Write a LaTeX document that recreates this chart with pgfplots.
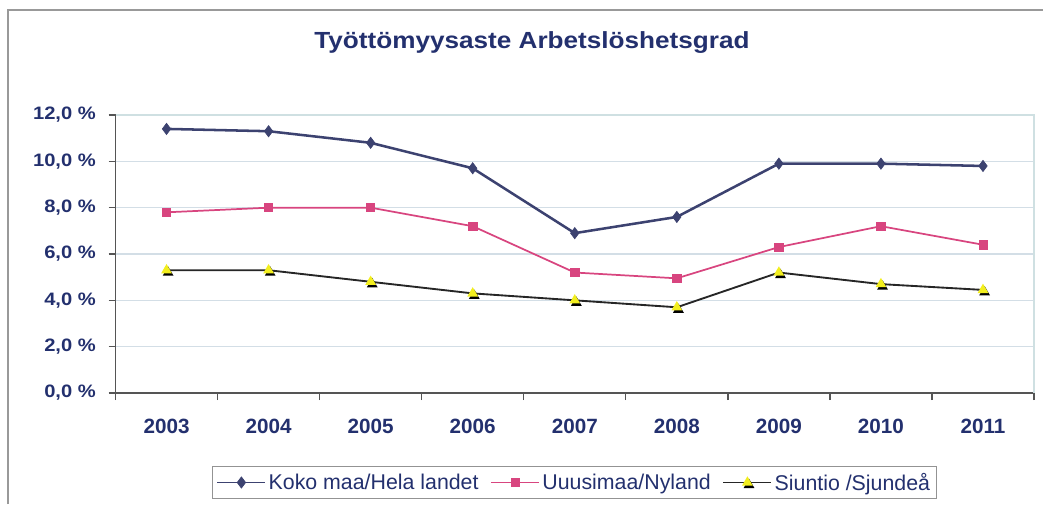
\documentclass[border=0pt]{standalone}
\usepackage{fontspec}
\setmainfont{Liberation Sans}
\newfontfamily\titlefont[FakeStretch=1.12]{Liberation Sans}
\newfontfamily\yfont[FakeStretch=1.12]{Liberation Sans}
\usepackage{pgfplots}
\pgfplotsset{compat=1.18}
\definecolor{navy}{HTML}{23306E}
\definecolor{kokoc}{HTML}{3C4270}
\definecolor{uusic}{HTML}{D8457F}
\definecolor{sjyellow}{HTML}{F2EE1E}
\definecolor{gridc}{HTML}{D3DEE6}
\definecolor{axisc}{HTML}{555555}
\definecolor{framec}{HTML}{CFE0E2}
\pgfdeclareplotmark{shadowtri}{%
  \begin{pgfscope}%
  \pgftransformshift{\pgfpoint{1.2pt}{-1.8pt}}%
  \pgfsetfillcolor{black}%
  \pgfpathmoveto{\pgfqpointpolar{90}{1.3\pgfplotmarksize}}%
  \pgfpathlineto{\pgfqpointpolar{-30}{1.3\pgfplotmarksize}}%
  \pgfpathlineto{\pgfqpointpolar{210}{1.3\pgfplotmarksize}}%
  \pgfpathclose\pgfusepathqfill
  \end{pgfscope}%
  \pgfsetfillcolor{sjyellow}%
  \pgfpathmoveto{\pgfqpointpolar{90}{1.3\pgfplotmarksize}}%
  \pgfpathlineto{\pgfqpointpolar{-30}{1.3\pgfplotmarksize}}%
  \pgfpathlineto{\pgfqpointpolar{210}{1.3\pgfplotmarksize}}%
  \pgfpathclose\pgfusepathqfill
}
\pgfplotstableread{
year koko uusi sju
2003 11.4 7.8 5.3
2004 11.3 8.0 5.3
2005 10.8 8.0 4.8
2006 9.7 7.2 4.3
2007 6.9 5.2 4.0
2008 7.6 4.95 3.7
2009 9.9 6.3 5.2
2010 9.9 7.2 4.7
2011 9.8 6.4 4.45
}\datatable
\begin{document}
\begin{tikzpicture}[x=0.75pt,y=0.75pt]
\path[use as bounding box] (0,0) rectangle (1043,504);
\draw[gray!80, line width=1.5pt] (8,0) -- (8,494) -- (1043,494);
\node[font=\titlefont\bfseries\fontsize{17.5pt}{19pt}\selectfont, text=navy] at (532,461) {Työttömyysaste Arbetslöshetsgrad};
\coordinate (AX) at (115.5,111);
\begin{axis}[
  at={(AX)}, anchor=south west, scale only axis,
  width=688.9pt, height=208.5pt,
  xmin=2002.5, xmax=2011.5, ymin=0, ymax=12,
  axis x line*=bottom, axis y line*=left,
  axis line style={draw=axisc, line width=1.1pt},
  tick align=outside,
  xtick={2003,2004,2005,2006,2007,2008,2009,2010,2011},
  xticklabels={2003,2004,2005,2006,2007,2008,2009,2010,2011},
  minor xtick={2002.5,2003.5,2004.5,2005.5,2006.5,2007.5,2008.5,2009.5,2010.5,2011.5},
  major x tick style={draw=none},
  minor x tick style={draw=axisc, line width=1pt},
  minor tick length=5.25pt,
  ytick={0,2,4,6,8,10,12},
  yticklabels={0{,}0 \%,2{,}0 \%,4{,}0 \%,6{,}0 \%,8{,}0 \%,10{,}0 \%,12{,}0 \%},
  y tick style={draw=axisc, line width=1pt},
  major tick length=5.25pt,
  ymajorgrids, grid style={draw=gridc, line width=1pt},
  x tick label style={font=\bfseries\fontsize{15.5pt}{17pt}\selectfont, text=navy, yshift=-10.5pt},
  y tick label style={font=\yfont\bfseries\fontsize{13.5pt}{15pt}\selectfont, text=navy, xshift=-6pt},
  legend style={at={(0.5,-0.322)}, anchor=center, draw=gray!85, line width=1pt,
    font=\fontsize{16pt}{18pt}\selectfont, text=navy, inner sep=3pt,
    /tikz/every even column/.append style={column sep=7pt}},
  legend columns=3,
  legend image code/.code={\draw[mark repeat=2,mark phase=2,#1,line width=0.9pt] plot coordinates {(0pt,0pt) (18pt,0pt) (36pt,0pt)};},
  clip=false,
]
\draw[framec, line width=1pt] (rel axis cs:0,1) -- (rel axis cs:1,1) -- (rel axis cs:1,0);
\addplot[color=kokoc, line width=1.9pt, mark=diamond*, mark size=4.2pt, mark options={fill=kokoc, line width=0.5pt}] table[x=year, y=koko] {\datatable};
\addlegendentry{Koko maa/Hela landet}
\addplot[color=uusic, line width=1.3pt, mark=square*, mark size=3.1pt, mark options={fill=uusic, line width=0.5pt}] table[x=year, y=uusi] {\datatable};
\addlegendentry{Uuusimaa/Nyland}
\addplot[color=black!85, line width=1.4pt, mark=shadowtri, mark size=3.6pt] table[x=year, y=sju] {\datatable};
\addlegendentry{Siuntio /Sjundeå}
\end{axis}
\end{tikzpicture}
\end{document}
